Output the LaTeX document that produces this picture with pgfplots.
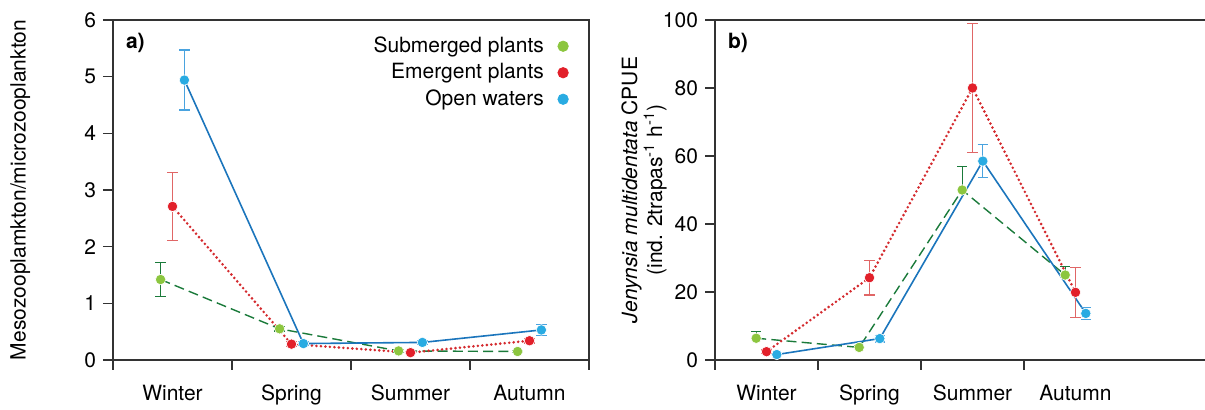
\documentclass[border=0pt]{standalone}
\usepackage{fontspec}
\setmainfont{TeX Gyre Heros}
\usepackage{pgfplots}
\pgfplotsset{compat=1.18}
\definecolor{gmark}{HTML}{8CC63F}
\definecolor{gline}{HTML}{1A7A3A}
\definecolor{rmark}{HTML}{E2202A}
\definecolor{rline}{HTML}{D42A2E}
\definecolor{rerr}{HTML}{E06666}
\definecolor{bmark}{HTML}{29ABE2}
\definecolor{bline}{HTML}{1B75BC}
\definecolor{berr}{HTML}{4AA3DF}
\definecolor{axc}{HTML}{333333}
\newcommand{\ff}{\fontsize{10.5}{12.5}\selectfont}
\pgfplotsset{
  myaxis/.style={
    scale only axis, height=170pt, ymin=0, xmin=0.5,
    axis line style={axc, line width=0.8pt},
    xticklabels={},
    extra x ticks={1,2,3,4}, extra x tick labels={Winter,Spring,Summer,Autumn},
    extra x tick style={major tick length=0pt, tick label style={yshift=-9pt}},
    tick align=outside, major tick length=5pt,
    tick style={axc, line width=0.8pt},
    xtick pos=lower, ytick pos=left,
    tick label style={font=\ff},
    label style={font=\ff},
    /pgf/number format/assume math mode=true,
    clip=false,
  },
  gl/.style={gline, dash pattern=on 5pt off 2.6pt, line width=0.7pt},
  rl/.style={rline, dash pattern=on 0pt off 2.25pt, line cap=round, line width=1.45pt},
  bl/.style={bline, line width=0.8pt},
  mk/.style={only marks, mark=*, mark size=2.6pt, mark options={draw=white, line width=0.3pt, fill=#1}},
  eb/.style={error bars/.cd, y dir=both, y explicit,
     error bar style={#1, line width=0.6pt},
     error mark options={#1, rotate=90, mark size=2.6pt, line width=0.6pt}, /pgfplots/.cd},
}
\begin{document}
\begin{tikzpicture}
\useasboundingbox (0,0) rectangle (602.5pt,205pt);
\clip (0,0) rectangle (602.5pt,205pt);
% ---------------- panel a
\begin{axis}[myaxis, at={(56.5pt,25pt)}, anchor=south west,
  width=238pt, xmax=4.5, ymax=6, ytick={0,1,...,6},
  xtick={0.5,1.5,2.5,3.5,4.5},
  ylabel={Mesozooplamkton/microzooplankton},
  ylabel style={at={(axis description cs:-0.195,0.5)}, anchor=center},
  legend style={at={(axis description cs:0.97,0.975)}, anchor=north east, draw=none, fill=none, font=\ff, row sep=0pt, column sep=5pt},
  legend cell align=right, legend plot pos=right]
\addplot[gl, forget plot] coordinates {(0.9,1.42) (1.9,0.55) (2.9,0.16) (3.9,0.15)};
\addplot[rl, forget plot] coordinates {(1,2.71) (2,0.28) (3,0.13) (4,0.34)};
\addplot[bl, forget plot] coordinates {(1.1,4.94) (2.1,0.29) (3.1,0.31) (4.1,0.53)};
\addplot[gmark, mk=gmark, forget plot, eb=gline] table[y error=e] {
x y e
0.9 1.42 0.30
1.9 0.55 0.04
2.9 0.16 0.02
3.9 0.15 0.02
};
\addplot[rmark, mk=rmark, forget plot, eb=rerr] table[y error=e] {
x y e
1 2.71 0.60
2 0.28 0.04
3 0.13 0.02
4 0.34 0.04
};
\addplot[bmark, mk=bmark, forget plot, eb=berr] table[y error=e] {
x y e
1.1 4.94 0.53
2.1 0.29 0.03
3.1 0.31 0.03
4.1 0.53 0.10
};
\addlegendimage{only marks, mark=*, mark size=2.6pt, gmark}
\addlegendentry{Submerged plants}
\addlegendimage{only marks, mark=*, mark size=2.6pt, rmark}
\addlegendentry{Emergent plants}
\addlegendimage{only marks, mark=*, mark size=2.6pt, bmark}
\addlegendentry{Open waters}
\node[anchor=north west, font=\ff\bfseries] at (rel axis cs:0,1) [xshift=3pt, yshift=-3pt] {a)};
\end{axis}
% ---------------- panel b
\begin{axis}[myaxis, at={(357.5pt,25pt)}, anchor=south west,
  width=247.2pt, xmax=5.3, ymax=100, ytick={0,20,...,100},
  xtick={0.5,1.5,2.5,3.5},
  ylabel={\textit{Jenynsia multidentata} CPUE\\(ind. 2trapas\textsuperscript{-1} h\textsuperscript{-1})},
  ylabel style={at={(axis description cs:-0.1436,0.5)}, anchor=center, align=center}]
\addplot[gl] coordinates {(0.9,6.4) (1.9,3.7) (2.9,50) (3.9,25)};
\addplot[rl] coordinates {(1,2.45) (2,24.2) (3,80) (4,19.9)};
\addplot[bl] coordinates {(1.1,1.6) (2.1,6.3) (3.1,58.5) (4.1,13.7)};
\addplot[gmark, mk=gmark, eb=gline, error bars/y dir=plus] table[y error=e] {
x y e
0.9 6.4 2.0
1.9 3.7 0.5
2.9 50 7.0
3.9 25 2.5
};
\addplot[rmark, mk=rmark, eb=rerr] table[y error=e] {
x y e
1 2.45 0.5
2 24.2 5.1
3 80 19.0
4 19.9 7.3
};
\addplot[bmark, mk=bmark, eb=berr] table[y error=e] {
x y e
1.1 1.6 0.3
2.1 6.3 1.0
3.1 58.5 4.8
4.1 13.7 1.7
};
\node[anchor=north west, font=\ff\bfseries] at (rel axis cs:0,1) [xshift=3pt, yshift=-3pt] {b)};
\end{axis}
\end{tikzpicture}
\end{document}
